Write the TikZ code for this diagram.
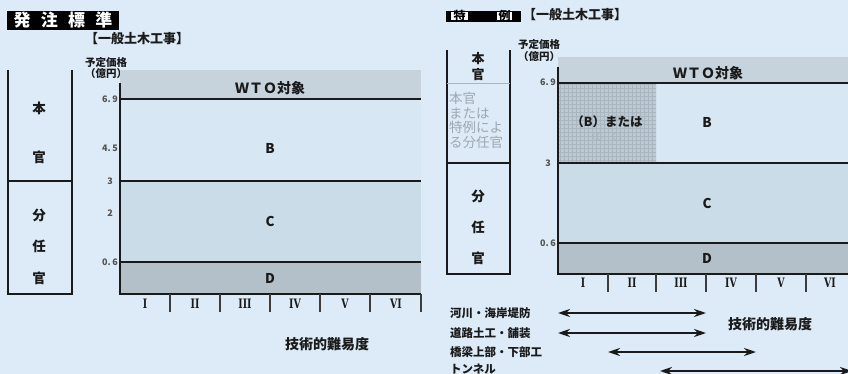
\documentclass[tikz,border=0pt]{standalone}
\usepackage{fontspec}
\usepackage{graphicx}
\setmainfont{Noto Sans CJK JP}
\newfontfamily\romfont{DejaVu Serif}
\usetikzlibrary{arrows.meta}
\definecolor{bg}{HTML}{DCEBF7}
\definecolor{wto}{HTML}{C6D3DD}
\definecolor{breg}{HTML}{D7E7F3}
\definecolor{creg}{HTML}{CBDCE9}
\definecolor{dreg}{HTML}{B3BFC9}
\definecolor{hatch}{HTML}{BCC8D2}
\definecolor{hline}{HTML}{A9B5BF}
\definecolor{graytxt}{HTML}{9EA8B2}
\definecolor{faint}{HTML}{AAB6C0}
\definecolor{ink}{HTML}{1A1A1A}
\newcommand{\rn}[1]{\scalebox{0.72}[1]{\romfont\bfseries #1}}
\tikzset{
  lbl/.style={font=\fontsize{13.5}{14}\selectfont\bfseries, inner sep=0pt, text=ink},
  big/.style={font=\fontsize{14}{15}\selectfont\bfseries, inner sep=0pt, text=ink},
  small/.style={font=\fontsize{10.5}{11}\selectfont\bfseries, inner sep=0pt, text=ink},
  klbl/.style={font=\fontsize{11.5}{12}\selectfont\bfseries, inner sep=0pt, text=ink, anchor=west},
  num/.style={font=\fontsize{9}{10}\selectfont\bfseries, inner sep=0pt, anchor=east, text=ink!75},
  rom/.style={font=\fontsize{13}{13}\selectfont, inner sep=0pt, text=ink},
  heavy/.style={line width=2.2pt, draw=ink},
  mid/.style={line width=1.6pt, draw=ink},
  tick/.style={line width=1.1pt, draw=ink!85},
  dbl/.style={line width=2.4pt, draw=ink, {Stealth[length=12pt,width=8pt]}-{Stealth[length=12pt,width=8pt]}},
  title/.style={fill=black, text=white, inner sep=0pt}
}
\begin{document}
\begin{tikzpicture}[x=1pt,y=-1pt]
\useasboundingbox (0,0) rectangle (848,374);
\fill[bg] (0,0) rectangle (848,374);

% ================= LEFT PANEL =================
\node[title, minimum width=112pt, minimum height=19pt, font=\fontsize{17}{18}\selectfont\bfseries] (t1) at (63,20.5) {発\hspace{0.6em}注\hspace{0.6em}標\hspace{0.6em}準};
\node[lbl, font=\fontsize{13}{14}\selectfont\bfseries] (t1sub) at (137,39) {【一般土木工事】};
\node[small] (yl1) at (106,63) {予定価格};
\node[small] (yl2) at (106,74) {（億円）};

\fill[wto] (120,70) rectangle (421,99);
\fill[breg] (120,99) rectangle (421,181);
\fill[creg] (120,181) rectangle (421,262);
\fill[dreg] (120,262) rectangle (421,294);
\draw[mid] (120,99) -- (421,99);
\draw[mid] (120,181) -- (421,181);
\draw[mid] (120,262) -- (421,262);
\draw[heavy] (120,83) -- (120,294) -- (421,294);
\foreach \x in {170,220,270,320,370,421} \draw[tick] (\x,294) -- (\x,312);

\node[num] (l69) at (118,99) {6.\,9};
\node[num] (l45) at (118,148) {4.\,5};
\node[num] (l3) at (113,181) {3};
\node[num] (l2) at (113,213) {2};
\node[num] (l06) at (118,262) {0.\,6};

\node[big] (wto1) at (270,88) {ＷＴＯ対象};
\node[lbl] (b1) at (270,148) {B};
\node[lbl] (c1) at (270,221) {C};
\node[lbl] (d1) at (270,278) {D};

\node[rom] (r11) at (145,304) {\rn{I}};
\node[rom] (r12) at (195,304) {\rn{II}};
\node[rom] (r13) at (245,304) {\rn{III}};
\node[rom] (r14) at (295,304) {\rn{IV}};
\node[rom] (r15) at (345,304) {\rn{V}};
\node[rom] (r16) at (396,304) {\rn{VI}};

\node[big] (x1) at (327,344) {技術的難易度};

% left box
\draw[heavy] (8,70) -- (8,294) -- (72,294) -- (72,70);
\draw[heavy] (8,181) -- (72,181);
\node[lbl] (h1) at (39,108) {本};
\node[lbl] (h2) at (39,157) {官};
\node[lbl] (s1) at (39,215) {分};
\node[lbl] (s2) at (39,246) {任};
\node[lbl] (s3) at (39,278) {官};

% ================= RIGHT PANEL =================
\fill[black] (446,11) rectangle (521,22);
\fill[white!90!bg] (451,12.5) rectangle (468,20.5);
\fill[white!90!bg] (497,12.5) rectangle (512,20.5);
\node[inner sep=0pt, text=black, font=\fontsize{12}{12}\selectfont\bfseries] (t2a) at (459.5,16) {特};
\node[inner sep=0pt, text=black, font=\fontsize{12}{12}\selectfont\bfseries] (t2b) at (504.5,16) {例};
\node[lbl, font=\fontsize{13}{14}\selectfont\bfseries] (t2sub) at (575,15) {【一般土木工事】};
\node[small] (yl3) at (539,45) {予定価格};
\node[small] (yl4) at (539,57) {（億円）};

\fill[wto] (558,57) rectangle (848,83);
\fill[breg] (558,83) rectangle (848,163);
\fill[creg] (558,163) rectangle (848,243);
\fill[dreg] (558,243) rectangle (848,274);
\fill[hatch] (558,83) rectangle (656,163);
\begin{scope}
\clip (558,83) rectangle (656,163);
\draw[hline, line width=0.3pt, step=4pt] (556,81) grid (660,166);
\end{scope}
\draw[mid] (558,83) -- (850,83);
\draw[mid] (558,163) -- (850,163);
\draw[mid] (558,243) -- (850,243);
\draw[heavy] (558,67) -- (558,274) -- (850,274);
\foreach \x in {608,656,706,756,806} \draw[tick] (\x,274) -- (\x,292);

\node[num] (m69) at (556,82) {6.\,9};
\node[num] (m3) at (551,163) {3};
\node[num] (m06) at (556,243) {0.\,6};

\node[big] (wto2) at (708,73) {ＷＴＯ対象};
\node[lbl, font=\fontsize{12.5}{13}\selectfont\bfseries] (bor) at (607,122) {（B）または};
\node[inner sep=0pt, text=faint, font=\fontsize{9.5}{10}\selectfont] (bc) at (607,137) {（B，C）};
\node[lbl] (b2) at (707,122) {B};
\node[lbl] (c2) at (707,203) {C};
\node[lbl] (d2) at (707,258) {D};

\node[rom] (r21) at (583,283) {\rn{I}};
\node[rom] (r22) at (632,283) {\rn{II}};
\node[rom] (r23) at (681,283) {\rn{III}};
\node[rom] (r24) at (731,283) {\rn{IV}};
\node[rom] (r25) at (781,283) {\rn{V}};
\node[rom] (r26) at (830,283) {\rn{VI}};

% right box
\draw[heavy] (447,50) -- (447,274) -- (510,274) -- (510,50);
\draw[heavy] (447,163) -- (510,163);
\draw[hline, line width=0.8pt] (447,83) -- (510,83);
\node[lbl, font=\fontsize{13}{14}\selectfont\bfseries] (h3) at (478,59) {本};
\node[lbl, font=\fontsize{13}{14}\selectfont\bfseries] (h4) at (478,75) {官};
\node[anchor=north west, inner sep=0pt, text=graytxt, align=left,
      font=\fontsize{13.5}{14.5}\selectfont] (sp) at (449,92) {本官\\または\\特例によ\\る分任官};
\node[lbl] (s4) at (478,196) {分};
\node[lbl] (s5) at (478,227) {任};
\node[lbl] (s6) at (478,258) {官};

% arrows
\node[klbl] (k1) at (450,313) {河川・海岸堤防};
\node[klbl] (k2) at (450,333) {道路土工・舗装};
\node[klbl] (k3) at (450,352) {橋梁上部・下部工};
\node[klbl] (k4) at (450,369) {トンネル};
\coordinate (a1s) at (558,313); \coordinate (a1e) at (706,313);
\coordinate (a2s) at (558,333); \coordinate (a2e) at (706,333);
\coordinate (a3s) at (608,352); \coordinate (a3e) at (756,352);
\coordinate (a4s) at (660,371); \coordinate (a4e) at (852,371);
\draw[dbl] (a1s) -- (a1e);
\draw[dbl] (a2s) -- (a2e);
\draw[dbl] (a3s) -- (a3e);
\draw[dbl] (a4s) -- (a4e);

\node[big] (x2) at (770,324) {技術的難易度};
\end{tikzpicture}
\end{document}
